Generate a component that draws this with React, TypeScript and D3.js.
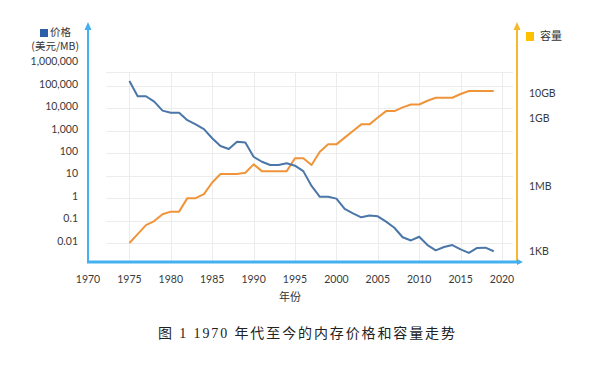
import * as React from 'react';
import * as d3 from 'd3';

// years on x axis
const years = [
  1975, 1976, 1977, 1978, 1979, 1980, 1981, 1982, 1983, 1984,
  1985, 1986, 1987, 1988, 1989, 1990, 1991, 1992, 1993, 1994,
  1995, 1996, 1997, 1998, 1999, 2000, 2001, 2002, 2003, 2004,
  2005, 2006, 2007, 2008, 2009, 2010, 2011, 2012, 2013, 2014,
  2015, 2016, 2017, 2018, 2019,
];

// price, USD per MB
const price = [
  166000, 35000, 35000, 20000, 8000, 6400, 6400, 3000, 1950, 1200,
  470, 210, 155, 330, 300, 70, 42, 30, 30, 36,
  28, 16, 3.5, 1.15, 1.15, 0.95, 0.33, 0.21, 0.14, 0.17,
  0.155, 0.09, 0.048, 0.018, 0.013, 0.019, 0.0081, 0.0047, 0.0066, 0.0081,
  0.0052, 0.0036, 0.006, 0.0062, 0.0043,
];

// capacity, plotted on the price scale
const capacity = [
  0.01, 0.025, 0.063, 0.095, 0.19, 0.25, 0.25, 1, 1, 1.5,
  5, 12, 12, 12, 13.5, 32, 16, 16, 16, 16,
  60, 60, 30, 117, 250, 250, 500, 980, 1950, 1950,
  3900, 7600, 7600, 11200, 15000, 15000, 22000, 30000, 30000, 30000,
  44000, 60000, 60000, 60000, 60000,
];

const xTicks = [1970, 1975, 1980, 1985, 1990, 1995, 2000, 2005, 2010, 2015, 2020];
const priceTicks = [1000000, 100000, 10000, 1000, 100, 10, 1, 0.1, 0.01];
const priceTickLabels = ['1,000,000', '100,000', '10,000', '1,000', '100', '10', '1', '0.1', '0.01'];
const capTickValues = [1, 1024, 1048576, 10485760]; // in KB
const capTickLabels = ['1KB', '1MB', '1GB', '10GB'];

const BLUE = '#4a76a8';
const ORANGE = '#f0943a';
const AXIS_BLUE = '#45b0f0';
const AXIS_ORANGE = '#f5b830';
const LATO = 'Lato, "Noto Sans", sans-serif';
const CJK = '"Noto Sans CJK SC", sans-serif';

const drawChart = (node: SVGSVGElement) => {
  const svg = d3.select(node);
  svg.selectAll('*').remove();

  // plot box, hardcoded to match layout
  const left = 88;
  const right = 517;
  const top = 72;
  const bottom = 262;
  const gridLeft = 106;
  const gridRight = 513;

  const x = d3.scaleLinear().domain([1970, 2020]).range([88, 502]);
  const y = d3.scaleLog().domain([0.01, 100000]).range([243, 86]);
  // right labels are not evenly spaced in the source, so piecewise
  const yCap = d3.scaleLog().domain(capTickValues).range([252, 187, 119, 94]);

  // gridlines
  const grid = svg.append('g').attr('stroke', '#ececec').attr('stroke-width', 1);
  grid.selectAll('line.h')
    .data(priceTicks.filter(v => v <= 100000))
    .enter()
    .append('line')
    .attr('x1', gridLeft)
    .attr('x2', gridRight)
    .attr('y1', d => Math.round(y(d)) + 0.5)
    .attr('y2', d => Math.round(y(d)) + 0.5);
  grid.append('line')
    .attr('x1', gridLeft).attr('x2', gridRight)
    .attr('y1', top + 0.5).attr('y2', top + 0.5);
  grid.selectAll('line.v')
    .data(xTicks.filter(v => v > 1970))
    .enter()
    .append('line')
    .attr('x1', d => Math.round(x(d)) + 0.5)
    .attr('x2', d => Math.round(x(d)) + 0.5)
    .attr('y1', top)
    .attr('y2', bottom);

  // data lines
  const line = d3.line<number>()
    .x((d, i) => x(years[i]))
    .y(d => y(d));

  svg.append('path')
    .datum(capacity)
    .attr('fill', 'none')
    .attr('stroke', ORANGE)
    .attr('stroke-width', 2)
    .attr('stroke-linejoin', 'round')
    .attr('d', line);

  svg.append('path')
    .datum(price)
    .attr('fill', 'none')
    .attr('stroke', BLUE)
    .attr('stroke-width', 2)
    .attr('stroke-linejoin', 'round')
    .attr('d', line);

  // left axis + arrow
  svg.append('line')
    .attr('x1', left).attr('x2', left)
    .attr('y1', 28).attr('y2', bottom)
    .attr('stroke', AXIS_BLUE).attr('stroke-width', 2);
  svg.append('path')
    .attr('d', `M${left - 3.5},30 L${left},22 L${left + 3.5},30 Z`)
    .attr('fill', AXIS_BLUE);

  // right axis + arrow
  svg.append('line')
    .attr('x1', right).attr('x2', right)
    .attr('y1', 28).attr('y2', bottom)
    .attr('stroke', AXIS_ORANGE).attr('stroke-width', 2);
  svg.append('path')
    .attr('d', `M${right - 3.5},30 L${right},22 L${right + 3.5},30 Z`)
    .attr('fill', AXIS_ORANGE);

  // bottom axis + arrow
  svg.append('line')
    .attr('x1', left - 1).attr('x2', right + 1)
    .attr('y1', bottom).attr('y2', bottom)
    .attr('stroke', AXIS_BLUE).attr('stroke-width', 3);
  svg.append('path')
    .attr('d', `M${right},${bottom - 3} L${right + 6},${bottom} L${right},${bottom + 3} Z`)
    .attr('fill', AXIS_BLUE);

  // left tick labels
  svg.append('g')
    .selectAll('text')
    .data(priceTicks)
    .enter()
    .append('text')
    .attr('x', 78)
    .attr('y', d => y(d) - 1)
    .attr('text-anchor', 'end')
    .attr('dominant-baseline', 'middle')
    .attr('font-family', LATO)
    .attr('font-size', 10.5)
    .attr('fill', '#3a3a3a')
    .text((d, i) => priceTickLabels[i]);

  // x tick labels
  svg.append('g')
    .selectAll('text')
    .data(xTicks)
    .enter()
    .append('text')
    .attr('x', d => x(d))
    .attr('y', 280)
    .attr('text-anchor', 'middle')
    .attr('dominant-baseline', 'middle')
    .attr('font-family', LATO)
    .attr('font-size', 10.5)
    .attr('fill', '#3a3a3a')
    .text(d => d);

  // right tick labels
  svg.append('g')
    .selectAll('text')
    .data(capTickValues)
    .enter()
    .append('text')
    .attr('x', 529)
    .attr('y', d => yCap(d))
    .attr('dominant-baseline', 'middle')
    .attr('font-family', LATO)
    .attr('font-size', 10.5)
    .attr('fill', '#3a3a3a')
    .text((d, i) => capTickLabels[i]);

  // legends
  svg.append('rect')
    .attr('x', 40).attr('y', 29).attr('width', 8).attr('height', 8)
    .attr('fill', '#2d5fa8');
  svg.append('text')
    .attr('x', 50).attr('y', 33)
    .attr('dominant-baseline', 'middle')
    .attr('font-family', CJK).attr('font-size', 10.5).attr('fill', '#333')
    .text('价格');
  svg.append('text')
    .attr('x', 79).attr('y', 47)
    .attr('text-anchor', 'end')
    .attr('dominant-baseline', 'middle')
    .attr('font-family', CJK).attr('font-size', 10.5).attr('fill', '#333')
    .text('(美元/MB)');

  svg.append('rect')
    .attr('x', 526).attr('y', 32).attr('width', 8).attr('height', 9)
    .attr('fill', '#ffc000');
  svg.append('text')
    .attr('x', 540).attr('y', 37)
    .attr('dominant-baseline', 'middle')
    .attr('font-family', CJK).attr('font-size', 11).attr('fill', '#333')
    .text('容量');

  // x axis title
  svg.append('text')
    .attr('x', 290).attr('y', 298)
    .attr('text-anchor', 'middle')
    .attr('dominant-baseline', 'middle')
    .attr('font-family', CJK).attr('font-size', 11).attr('fill', '#333')
    .text('年份');

  // caption
  svg.append('text')
    .attr('x', 158).attr('y', 338)
    .attr('textLength', 297)
    .attr('lengthAdjust', 'spacing')
    .attr('font-family', '"Liberation Serif", "Noto Sans CJK SC", serif')
    .attr('font-size', 14)
    .attr('fill', '#222')
    .text('图 1 1970 年代至今的内存价格和容量走势');
};

const App = () => {
  const ref = React.useRef<SVGSVGElement>(null);

  React.useEffect(() => {
    if (ref.current) drawChart(ref.current);
  }, []);

  return (
    <svg
      ref={ref}
      width={600}
      height={365}
      style={{ position: 'absolute', left: 0, top: 0, background: '#fff' }}
    />
  );
};

export default App;
